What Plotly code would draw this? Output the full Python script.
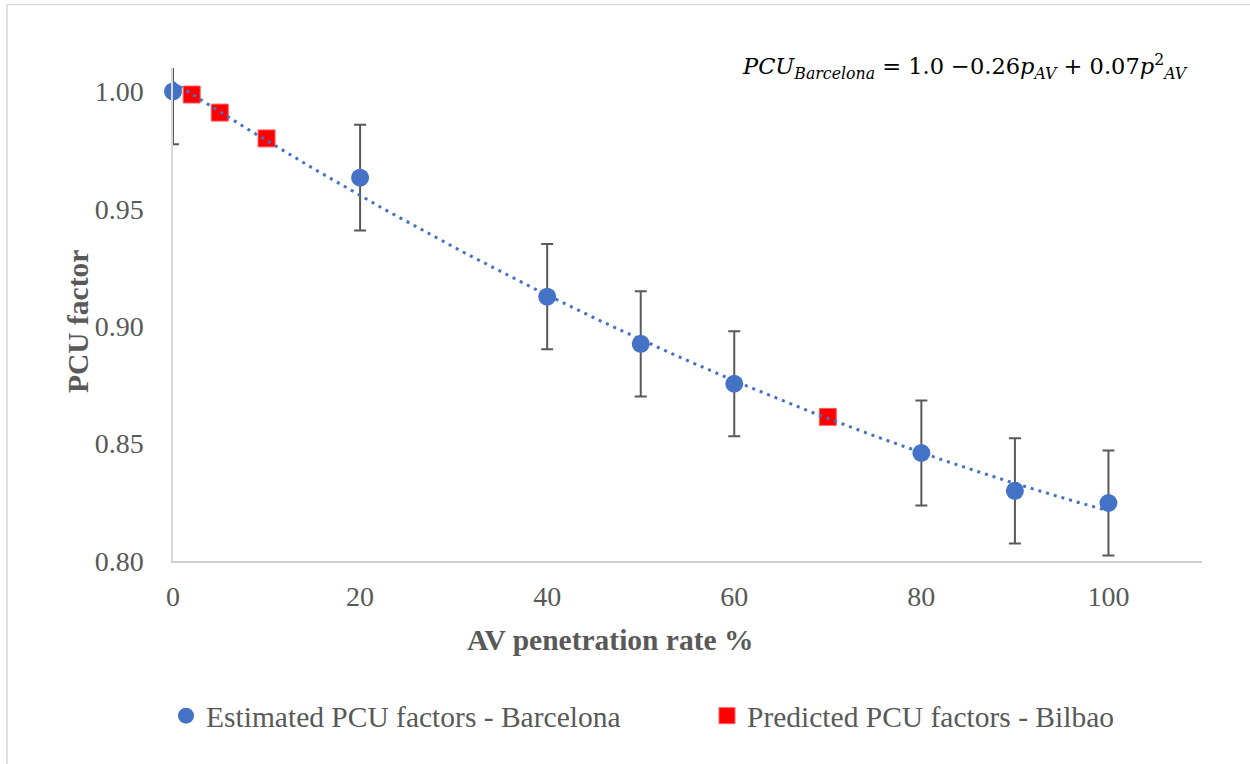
import numpy as np
import plotly.graph_objects as go

# Data
barcelona_x = [0, 20, 40, 50, 60, 80, 90, 100]
barcelona_y = [1.000, 0.9633, 0.9126, 0.8925, 0.8755, 0.846, 0.8299, 0.8247]
barcelona_err = [0.0225, 0.0225, 0.0224, 0.0224, 0.0224, 0.0224, 0.0224, 0.0224]

bilbao_x = [2, 5, 10, 70]
bilbao_y = [0.9987, 0.991, 0.980, 0.8614]

x_ticks = [0, 20, 40, 60, 80, 100]
y_ticks = [0.80, 0.85, 0.90, 0.95, 1.00]

# Polynomial (order 2) trendline fitted to the Barcelona estimates
coef = np.polyfit(barcelona_x, barcelona_y, 2)
trend_x = np.linspace(0, 100, 201)
trend_y = np.polyval(coef, trend_x)

BLUE = "#4472C4"
RED = "#FF0000"
GREY_TXT = "#595959"
FONT = "Liberation Serif"

fig = go.Figure()

# error bars (clipped to plot area)
fig.add_trace(go.Scatter(
    x=barcelona_x, y=barcelona_y, mode="markers",
    marker=dict(size=1, color="rgba(0,0,0,0)"),
    error_y=dict(type="data", array=barcelona_err, visible=True,
                 color="#595959", thickness=2, width=6),
    showlegend=False, hoverinfo="skip", cliponaxis=True,
))

fig.add_trace(go.Scatter(
    x=barcelona_x, y=barcelona_y, mode="markers",
    name="Estimated PCU factors - Barcelona",
    marker=dict(symbol="circle", size=18, color=BLUE),
    cliponaxis=False, legend="legend",
))

fig.add_trace(go.Scatter(
    x=bilbao_x, y=bilbao_y, mode="markers",
    name="Predicted PCU factors - Bilbao",
    marker=dict(symbol="square", size=17, color=RED,
                line=dict(color="#FF6060", width=1)),
    cliponaxis=False, legend="legend2",
))

fig.add_trace(go.Scatter(
    x=trend_x, y=trend_y, mode="lines",
    line=dict(color=BLUE, width=3, dash="3px,5px"),
    showlegend=False, hoverinfo="skip",
))

legend_common = dict(orientation="h", xref="container", yref="container",
                     xanchor="left", yanchor="middle", y=(764 - 716) / 764,
                     itemwidth=30, bgcolor="rgba(0,0,0,0)",
                     font=dict(family=FONT, size=29.5, color=GREY_TXT))

fig.update_layout(
    width=1250, height=764,
    margin=dict(l=173, r=48, t=68, b=203),
    paper_bgcolor="white", plot_bgcolor="white",
    font=dict(family=FONT, size=28, color=GREY_TXT),
    xaxis=dict(range=[0, 110], tickvals=x_ticks, ticktext=[str(v) for v in x_ticks],
               showgrid=False, zeroline=False, showline=True,
               linecolor="#d0d0d0", linewidth=1.5, ticks="",
               ticklabelstandoff=10,
               tickfont=dict(family=FONT, size=28, color=GREY_TXT)),
    yaxis=dict(range=[0.80, 1.01], tickvals=y_ticks,
               ticktext=[f"{v:.2f}" for v in y_ticks],
               showgrid=False, zeroline=False, showline=True,
               linecolor="#d9d9d9", linewidth=1.5, ticks="",
               ticklabelstandoff=22,
               tickfont=dict(family=FONT, size=28, color=GREY_TXT)),
    legend=dict(x=(191 - 25) / 1250, **legend_common),
    legend2=dict(x=(732 - 25) / 1250, **legend_common),
    showlegend=True,
)

fig.add_annotation(
    text="<b>AV penetration rate %</b>", xref="paper", yref="paper",
    x=(610 - 173) / 1029, y=(561 - 640) / 493, xanchor="center", yanchor="middle",
    showarrow=False, font=dict(family=FONT, size=29.5, color=GREY_TXT),
)
fig.add_annotation(
    text="<b>PCU factor</b>", xref="paper", yref="paper", textangle=-90,
    x=(78 - 173) / 1029, y=(561 - 322) / 493, xanchor="center", yanchor="middle",
    showarrow=False, font=dict(family=FONT, size=29.5, color=GREY_TXT),
)
fig.add_annotation(
    text="<i>PCU</i><sub><i>Barcelona</i></sub> = 1.0 −0.26<i>p</i><sub><i>AV</i></sub>"
         " + 0.07<i>p</i><sup>2</sup><sub><i>AV</i></sub>",
    xref="paper", yref="paper", x=(1190 - 173) / 1029, y=(561 - 66) / 493,
    xanchor="right", yanchor="middle", showarrow=False,
    font=dict(family="DejaVu Serif", size=22.5, color="black"),
)

fig.add_shape(type="rect", xref="paper", yref="paper",
              x0=(7 - 173) / 1029, x1=1.2, y0=-0.6, y1=(561 - 4.5) / 493,
              line=dict(color="#d9d9d9", width=1.5), fillcolor="rgba(0,0,0,0)",
              layer="below")

fig.write_html("out.html")
